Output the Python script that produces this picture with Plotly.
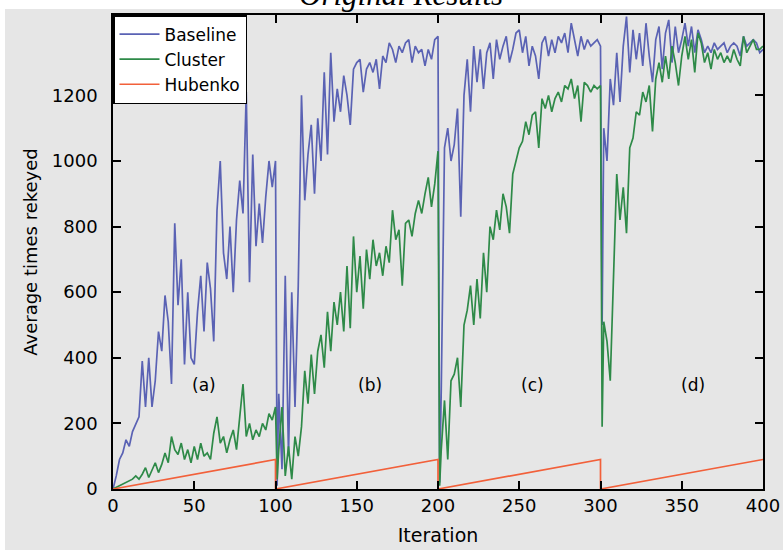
import plotly.graph_objects as go

# ---------------- data ----------------
# iteration positions (step 2, each reset segment restarts just after 100/200/300)
iterations = list(range(0, 101, 2))
for s in (1, 2, 3):
    iterations += [100 * s + 1] + list(range(100 * s + 2, 100 * s + 101, 2))

baseline_a = [0, 40, 90, 110, 150, 130, 175, 200, 220, 390, 250, 400, 250, 330, 480, 420, 590, 510, 320, 810,
              560, 700, 380, 600, 400, 380, 540, 650, 480, 690, 610, 450, 850, 1000, 720, 640, 800, 600, 820, 940,
              840, 1210, 630, 1020, 740, 870, 750, 890, 1000, 920, 1000]
baseline_b = [10, 290, 60, 650, 100, 600, 250, 620, 1200, 880, 1020, 1110, 900, 1130, 1000, 1270, 1020, 1330, 1120,
              1220, 1150, 1260, 1200, 1110, 1280, 1300, 1310, 1210, 1280, 1300, 1270, 1310, 1220, 1320, 1300, 1360,
              1340, 1300, 1350, 1330, 1360, 1370, 1300, 1350, 1330, 1340, 1290, 1340, 1310, 1370, 1380]
baseline_c = [20, 300, 1040, 1100, 1000, 1050, 1160, 830, 1200, 1310, 1150, 1350, 1240, 1340, 1220, 1330, 1360,
              1250, 1370, 1310, 1350, 1380, 1300, 1340, 1390, 1400, 1330, 1380, 1290, 1350, 1320, 1250, 1360, 1380,
              1320, 1370, 1330, 1380, 1360, 1390, 1330, 1420, 1370, 1320, 1380, 1340, 1370, 1350, 1360, 1370, 1350]
baseline_d = [500, 1100, 1000, 1250, 1170, 1330, 1180, 1350, 1440, 1270, 1400, 1310, 1390, 1290, 1420, 1320, 1240,
              1370, 1410, 1280, 1390, 1430, 1300, 1410, 1330, 1370, 1420, 1350, 1410, 1330, 1400, 1370, 1330, 1350,
              1330, 1360, 1340, 1350, 1360, 1330, 1350, 1360, 1350, 1320, 1380, 1350, 1360, 1370, 1360, 1330, 1340]

cluster_a = [0, 5, 10, 15, 20, 25, 30, 40, 30, 45, 65, 35, 55, 80, 50, 75, 110, 80, 160, 120, 105, 140, 90, 120,
             80, 130, 90, 140, 100, 110, 90, 170, 220, 140, 160, 110, 150, 180, 120, 210, 320, 160, 200, 150, 180,
             160, 200, 180, 230, 210, 250]
cluster_b = [30, 120, 250, 40, 130, 30, 160, 100, 190, 360, 260, 410, 290, 420, 470, 370, 540, 420, 570, 500, 600,
             480, 680, 490, 770, 600, 710, 550, 730, 640, 760, 680, 720, 650, 740, 690, 850, 760, 790, 620, 810, 820,
             770, 840, 880, 840, 900, 950, 860, 930, 1030]
cluster_c = [10, 120, 270, 90, 330, 350, 400, 250, 500, 545, 620, 500, 640, 520, 720, 600, 800, 760, 850, 790, 900,
             860, 780, 960, 1000, 1040, 1060, 1120, 1080, 1140, 1150, 1040, 1190, 1160, 1200, 1150, 1190, 1210, 1180,
             1230, 1220, 1250, 1190, 1230, 1120, 1240, 1230, 1210, 1230, 1220, 1230]
cluster_d = [190, 510, 450, 330, 680, 960, 820, 920, 780, 1040, 1070, 1150, 1140, 1210, 1180, 1230, 1090, 1250, 1300,
             1240, 1320, 1250, 1350, 1300, 1230, 1320, 1380, 1310, 1370, 1270, 1390, 1360, 1300, 1330, 1280, 1340,
             1310, 1330, 1300, 1320, 1300, 1340, 1310, 1290, 1380, 1330, 1350, 1370, 1340, 1340, 1350]

baseline = baseline_a + baseline_b + baseline_c + baseline_d
cluster = cluster_a + cluster_b + cluster_c + cluster_d

hubenko_x = [0, 100, 100, 200, 200, 300, 300, 400]
hubenko_y = [0, 90, 0, 90, 0, 90, 0, 90]

phase_labels = ["(a)", "(b)", "(c)", "(d)"]
phase_x = [56, 158, 258, 357]
phase_y = [317, 317, 317, 317]

x_ticks = [0, 50, 100, 150, 200, 250, 300, 350, 400]
y_ticks = [0, 200, 400, 600, 800, 1000, 1200]

# ---------------- figure ----------------
FONT = "DejaVu Sans"
W, H = 783, 550
ML, MR, MT, MB = 113, 20, 15, 61

fig = go.Figure()
fig.add_trace(go.Scatter(x=iterations, y=baseline, mode="lines", name="Baseline",
                         line=dict(color="#5a62b4", width=1.7)))
fig.add_trace(go.Scatter(x=iterations, y=cluster, mode="lines", name="Cluster",
                         line=dict(color="#2e8a48", width=1.7)))
fig.add_trace(go.Scatter(x=hubenko_x, y=hubenko_y, mode="lines", name="Hubenko",
                         line=dict(color="#f2603a", width=1.7)))

for lab, xx, yy in zip(phase_labels, phase_x, phase_y):
    fig.add_annotation(x=xx, y=yy, text=lab, showarrow=False,
                       font=dict(family=FONT, size=17, color="black"))

pw = W - ML - MR
ph = H - MT - MB
# gray page region (white strip at top and left edge)
fig.add_shape(type="rect", xref="paper", yref="paper", layer="below",
              x0=-(ML - 5) / pw, x1=1 + MR / pw, y0=-MB / ph, y1=1 + (MT - 9) / ph,
              fillcolor="#e6e6e6", line=dict(width=0))

fig.add_annotation(xref="paper", yref="paper", x=(401 - ML) / pw, y=1 + 1 / ph,
                   xanchor="center", yanchor="bottom", showarrow=False,
                   text="<i>Original Results</i>",
                   font=dict(family="Liberation Serif", size=31, color="black"))

fig.update_layout(
    width=W, height=H,
    margin=dict(l=ML, r=MR, t=MT, b=MB, autoexpand=False),
    paper_bgcolor="white", plot_bgcolor="white",
    showlegend=True,
    legend=dict(x=0, y=1, xanchor="left", yanchor="top",
                bgcolor="white", bordercolor="black", borderwidth=1.5,
                font=dict(family=FONT, size=17, color="black"),
                tracegroupgap=0, itemwidth=40),
)
fig.update_xaxes(range=[0, 400], tickvals=x_ticks, ticks="inside", ticklen=8, tickwidth=1.5,
                 tickcolor="black", showline=True, linecolor="black", linewidth=1.5, mirror="ticks",
                 showgrid=False, zeroline=False,
                 tickfont=dict(family=FONT, size=18, color="black"),
                 title=dict(text="Iteration", standoff=13, font=dict(family=FONT, size=19, color="black")))
fig.update_yaxes(range=[0, 1445], tickvals=y_ticks, ticks="inside", ticklen=8, tickwidth=1.5,
                 tickcolor="black", showline=True, linecolor="black", linewidth=1.5, mirror="ticks",
                 showgrid=False, zeroline=False, ticklabelstandoff=10,
                 tickfont=dict(family=FONT, size=18, color="black"),
                 title=dict(text="Average times rekeyed", standoff=10,
                            font=dict(family=FONT, size=18, color="black")))

fig.write_html("out.html")
